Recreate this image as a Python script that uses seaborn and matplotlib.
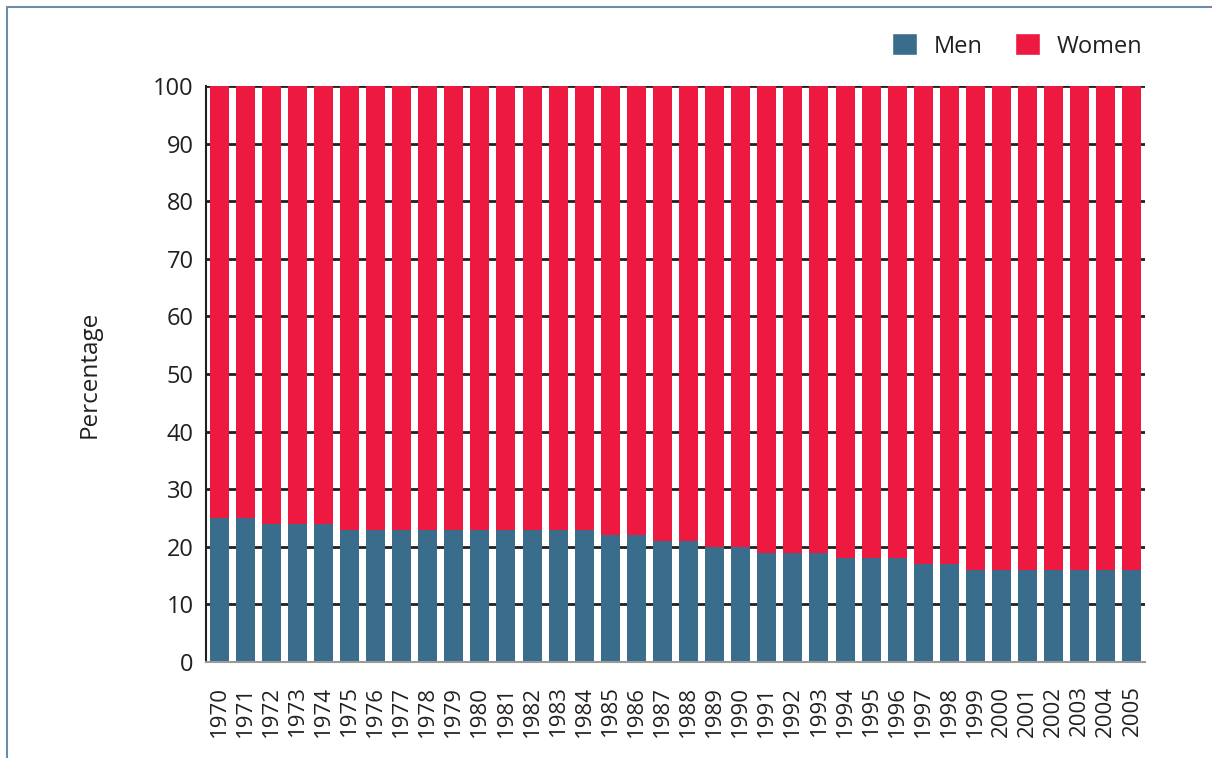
import matplotlib
matplotlib.use("Agg")
import matplotlib.pyplot as plt
from matplotlib.patches import Patch
from matplotlib.lines import Line2D
from matplotlib.ticker import FixedLocator
import seaborn as sns
import pandas as pd
import numpy as np

# Share of men and women by year (percent)
years = [str(y) for y in range(1970, 2006)]
men = [25, 25, 24, 24, 24, 23, 23, 23, 23, 23, 23, 23, 23, 23, 23,
       22, 22, 21, 21, 20, 20, 19, 19, 19, 18, 18, 18, 17, 17,
       16, 16, 16, 16, 16, 16, 16]
women = [75, 75, 76, 76, 76, 77, 77, 77, 77, 77, 77, 77, 77, 77, 77,
         78, 78, 79, 79, 80, 80, 81, 81, 81, 82, 82, 82, 83, 83,
         84, 84, 84, 84, 84, 84, 84]
y_ticks = [0, 10, 20, 30, 40, 50, 60, 70, 80, 90, 100]

men_color = "#3a6d8c"
women_color = "#ed1940"
text_color = "#231f20"

sns.set_style("white")
plt.rcParams["font.family"] = ["Open Sans", "DejaVu Sans"]

df = pd.DataFrame({"year": years, "men": men, "women": women})
df["total"] = df["men"] + df["women"]

fig = plt.figure(figsize=(12.12, 7.58), dpi=100)
ax = fig.add_axes([206 / 1212, 96 / 758, 939 / 1212, 576 / 758])

# Stacked bars: full height in women's colour, men's share drawn over it
sns.barplot(data=df, x="year", y="total", color=women_color, saturation=1,
            width=0.73, order=years, errorbar=None, ax=ax, linewidth=0)
sns.barplot(data=df, x="year", y="men", color=men_color, saturation=1,
            width=0.73, order=years, errorbar=None, ax=ax, linewidth=0)

ax.set_xlim(-0.5, len(years) - 0.5)
ax.set_ylim(0, 100)
ax.set_yticks(y_ticks)
ax.yaxis.grid(True, color=text_color, linewidth=2)
ax.xaxis.grid(False)
ax.set_axisbelow(True)

for side in ("top", "right"):
    ax.spines[side].set_visible(False)
ax.spines["left"].set_color(text_color)
ax.spines["left"].set_linewidth(1.5)
ax.spines["bottom"].set_color("#9a9a9a")
ax.spines["bottom"].set_linewidth(1.5)

ax.tick_params(axis="y", length=0, pad=9, labelsize=17, labelcolor=text_color)
ax.tick_params(axis="x", which="major", length=0, pad=17, labelsize=16,
               labelcolor=text_color, labelrotation=90)
ax.xaxis.set_minor_locator(FixedLocator(np.arange(-0.5, len(years), 1.0)))
ax.tick_params(axis="x", which="minor", length=14, width=1.3, color="#4a4a4a",
               direction="out")

ax.set_xlabel("")
ax.set_ylabel("Percentage", fontsize=17.5, color=text_color)
ax.yaxis.set_label_coords(-0.111, 0.5)

handles = [Patch(facecolor=men_color, label="Men"),
           Patch(facecolor=women_color, label="Women")]
fig.legend(handles=handles, loc="center right",
           bbox_to_anchor=(1154 / 1212, 1 - 46 / 758), ncol=2, frameon=False,
           fontsize=17, handlelength=1.05, handleheight=1.05,
           handletextpad=0.7, columnspacing=1.4, borderpad=0,
           labelcolor=text_color)

# Outer frame lines along the left and top edges
frame_color = "#6d8cab"
fig.add_artist(Line2D([7 / 1212, 7 / 1212], [0, 1 - 7 / 758],
                      transform=fig.transFigure, color=frame_color, lw=1.5))
fig.add_artist(Line2D([7 / 1212, 1], [1 - 7 / 758, 1 - 7 / 758],
                      transform=fig.transFigure, color=frame_color, lw=1.5))

fig.savefig("out.png", dpi=100, facecolor="white")
